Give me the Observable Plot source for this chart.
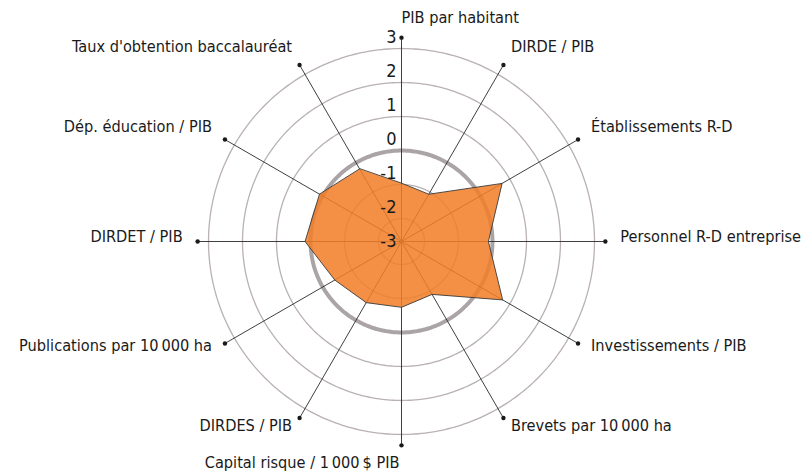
<!DOCTYPE html>
<html><head><meta charset="utf-8">
<script src="https://cdn.jsdelivr.net/npm/d3@7"></script>
<script src="https://cdn.jsdelivr.net/npm/@observablehq/plot@0.6"></script>
<style>
html,body{margin:0;padding:0;background:#fff;}
#chart svg{display:block;}
</style>
</head><body><div id="chart"></div>
<script>
// ---- data ----
const categories = [
  "PIB par habitant", "DIRDE / PIB", "Établissements R-D", "Personnel R-D entreprise",
  "Investissements / PIB", "Brevets par 10\u202F000 ha", "Capital risque / 1\u202F000\u202F$ PIB",
  "DIRDES / PIB", "Publications par 10\u202F000 ha", "DIRDET / PIB",
  "Dép. éducation / PIB", "Taux d'obtention baccalauréat"
];
const values = [-0.96, -1.07, 0.74, -0.12, 0.76, -0.88, -0.74, -0.60, -0.41, 0.16, 0.11, -0.21];
const tickValues = [3, 2, 1, 0, -1, -2, -3];
const ringValues = [-2, -1, 0, 1, 2, 3];
const highlightRing = 0;
const axisMin = -2.676;   // value at the centre
const axisMax = 3.32;     // value at the end of each spoke

// ---- layout ----
const W = 807, H = 474, cx = 401, cy = 241, unit = 34;
const FONT = "'DejaVu Sans Condensed', 'DejaVu Sans', sans-serif";

const n = categories.length;
const ang = i => i * 2 * Math.PI / n;
const pt = (v, a) => { const u = v - axisMin; return {x: u * Math.sin(a), y: u * Math.cos(a)}; };

// rings
const ringPts = [];
for (const rv of ringValues) {
  for (let k = 0; k <= 360; k++) {
    const p = pt(rv, k * Math.PI / 180);
    ringPts.push({ring: rv, x: p.x, y: p.y});
  }
}
// spokes
const spokes = categories.map((c, i) => {
  const e = pt(axisMax, ang(i));
  return {name: c, x1: 0, y1: 0, x2: e.x, y2: e.y, a: ang(i)};
});
// polygon
const poly = values.map((v, i) => ({...pt(v, ang(i)), name: categories[i]}));
// labels
const labels = spokes.map(s => {
  const s0 = Math.sin(s.a), c0 = Math.cos(s.a);
  let dxp = 15 * s0, dyp = 5 + 15 * c0;
  if (Math.abs(s0) < 1e-6 && c0 < 0) { dxp = -2; dyp = -17; }
  const anchor = (Math.abs(s0) < 1e-6) ? (c0 > 0 ? "start" : "end") : (s0 > 0 ? "start" : "end");
  return {name: s.name, x: s.x2 + dxp / unit, y: s.y2 + dyp / unit, anchor};
});
const ticks = tickValues.map(t => ({t, ...pt(t, 0)}));

const chart = Plot.plot({
  width: W, height: H,
  marginTop: 0, marginRight: 0, marginBottom: 0, marginLeft: 0,
  x: {domain: [-cx / unit, (W - cx) / unit], axis: null},
  y: {domain: [-(H - cy) / unit, cy / unit], axis: null},
  style: {fontFamily: FONT, background: "#fff"},
  marks: [
    Plot.line(ringPts.filter(d => d.ring !== highlightRing), {x: "x", y: "y", z: "ring", stroke: "#b9b1b4", strokeWidth: 1.3}),
    Plot.line(ringPts.filter(d => d.ring === highlightRing), {x: "x", y: "y", z: "ring", stroke: "#aba4a7", strokeWidth: 4}),
    Plot.link(spokes, {x1: "x1", y1: "y1", x2: "x2", y2: "y2", stroke: "#2a2a2a", strokeWidth: 0.9}),
    Plot.dot(spokes, {x: "x2", y: "y2", r: 2.2, fill: "#1a1a1a", stroke: null}),
    Plot.line(poly, {x: "x", y: "y", curve: "linear-closed", fill: "#f17e28", fillOpacity: 0.86, stroke: null}),
    Plot.line(poly, {x: "x", y: "y", curve: "linear-closed", stroke: "#3a3a3a", strokeWidth: 0.9}),
    Plot.text(ticks, {x: "x", y: "y", text: d => String(d.t), dx: -5, dy: -11, textAnchor: "end", fontSize: 18, fill: "#1a1a1a"}),
    Plot.text(labels.filter(d => d.anchor === "start"), {x: "x", y: "y", text: "name", textAnchor: "start", fontSize: 16.2, fill: "#1a1a1a"}),
    Plot.text(labels.filter(d => d.anchor === "end"), {x: "x", y: "y", text: "name", textAnchor: "end", fontSize: 16.2, fill: "#1a1a1a"})
  ]
});
document.getElementById("chart").appendChild(chart);
</script>
</body></html>
